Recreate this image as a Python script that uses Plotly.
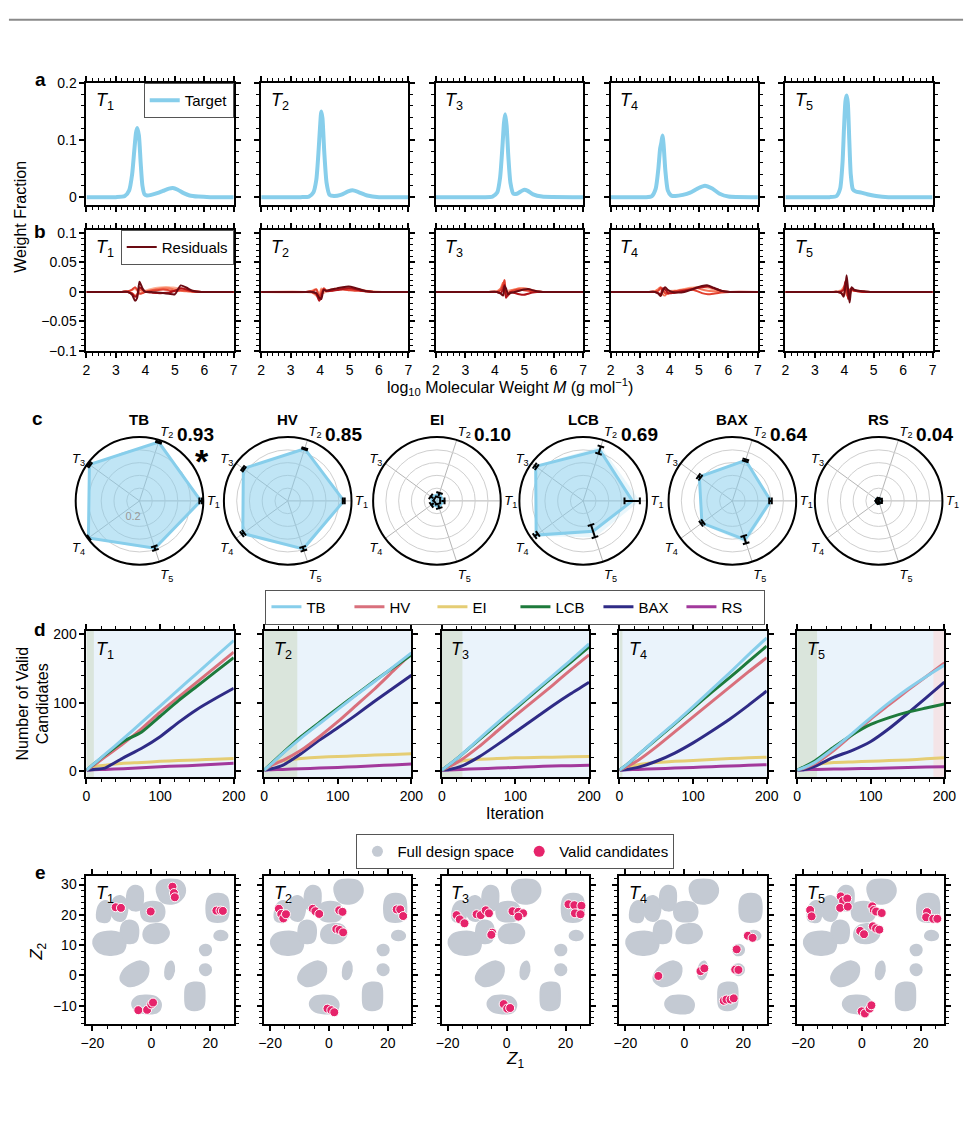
import math
import plotly.graph_objects as go

W, H = 978, 1127
FONT = "Liberation Sans, Arial, Helvetica, sans-serif"


def fx(p):
    return p / W


def fy(p):
    return 1 - p / H


# ------------------------------------------------------------------ data
T_NAMES = ["<i>T</i><sub>1</sub>", "<i>T</i><sub>2</sub>", "<i>T</i><sub>3</sub>",
           "<i>T</i><sub>4</sub>", "<i>T</i><sub>5</sub>"]

# panel a: target molecular weight distributions
TARGET_X = [
    [2, 3.0, 3.3, 3.45, 3.55, 3.62, 3.68, 3.72, 3.78, 3.84, 3.9, 3.97, 4.05, 4.2, 4.4, 4.6, 4.8, 4.93, 5.1, 5.3, 5.5, 5.8, 6.2, 7],
    [2, 3.34, 3.62, 3.77, 3.87, 3.94, 4.0, 4.04, 4.08, 4.14, 4.22, 4.32, 4.47, 4.7, 4.95, 5.1, 5.3, 5.6, 6, 7],
    [2, 3.6, 3.92, 4.08, 4.18, 4.26, 4.31, 4.35, 4.4, 4.46, 4.53, 4.63, 4.75, 4.88, 5.0, 5.12, 5.3, 5.6, 7],
    [2, 3.2, 3.4, 3.53, 3.62, 3.68, 3.72, 3.76, 3.8, 3.86, 3.94, 4.05, 4.2, 4.45, 4.7, 4.95, 5.2, 5.45, 5.7, 6.0, 7],
    [2, 3.5, 3.74, 3.86, 3.94, 3.99, 4.04, 4.08, 4.12, 4.17, 4.22, 4.29, 4.39, 4.58, 4.78, 5.08, 5.5, 7],
]
TARGET_Y = [
    [0, 0, 0.002, 0.012, 0.04, 0.08, 0.112, 0.121, 0.108, 0.06, 0.02, 0.005, 0.003, 0.004, 0.007, 0.011, 0.015, 0.016, 0.013, 0.007, 0.003, 0.001, 0, 0],
    [0, 0, 0.001, 0.008, 0.03, 0.075, 0.125, 0.15, 0.138, 0.08, 0.025, 0.004, 0.002, 0.004, 0.01, 0.012, 0.009, 0.003, 0, 0],
    [0, 0, 0.001, 0.008, 0.035, 0.09, 0.13, 0.145, 0.125, 0.07, 0.025, 0.006, 0.006, 0.01, 0.013, 0.011, 0.005, 0.001, 0],
    [0, 0, 0.002, 0.015, 0.05, 0.085, 0.095, 0.108, 0.09, 0.045, 0.012, 0.003, 0.002, 0.004, 0.008, 0.015, 0.02, 0.015, 0.006, 0.001, 0],
    [0, 0, 0.002, 0.015, 0.06, 0.12, 0.168, 0.178, 0.165, 0.1, 0.04, 0.014, 0.01, 0.008, 0.005, 0.002, 0, 0],
]

# panel b: residuals (5 runs per target, light -> dark)
RESID_X = [
    [2, 3.2, 3.4, 3.55, 3.65, 3.72, 3.8, 3.9, 4.0, 4.2, 4.4, 4.6, 4.8, 5.0, 5.2, 5.4, 5.6, 5.9, 7],
    [2, 3.52, 3.72, 3.87, 3.97, 4.04, 4.12, 4.22, 4.37, 4.57, 4.77, 4.97, 5.17, 5.37, 5.57, 5.82, 6.1, 7],
    [2, 3.8, 4.07, 4.2, 4.28, 4.33, 4.38, 4.45, 4.53, 4.68, 4.83, 4.98, 5.13, 5.28, 5.43, 5.63, 5.9, 7],
    [2, 3.3, 3.5, 3.62, 3.7, 3.77, 3.85, 3.95, 4.1, 4.3, 4.5, 4.7, 4.9, 5.1, 5.3, 5.5, 5.75, 6.05, 7],
    [2, 3.58, 3.78, 3.9, 3.98, 4.04, 4.08, 4.13, 4.18, 4.25, 4.33, 4.48, 4.68, 4.88, 5.18, 7],
]
RESID_Y = [
    [
        [0, 0, 0.001, 0.003, 0.005, 0.002, -0.002, 0, 0.002, 0.005, 0.007, 0.008, 0.008, 0.007, 0.006, 0.004, 0.002, 0, 0],
        [0, 0, 0, -0.002, -0.006, -0.004, 0.003, 0.002, 0.001, 0.003, 0.005, 0.006, 0.006, 0.004, 0.002, 0.001, 0, 0, 0],
        [0, 0, 0.001, 0.004, 0.008, 0.004, -0.003, -0.002, 0, 0.002, 0.003, 0.004, 0.003, 0.001, 0.003, 0.002, 0.001, 0, 0],
        [0, 0, 0, -0.003, -0.008, -0.006, 0.008, 0.004, 0, -0.001, -0.002, -0.002, -0.001, 0.002, 0.006, 0.004, 0.001, 0, 0],
        [0, 0, 0, -0.005, -0.015, -0.01, 0.017, 0.006, 0, 0, -0.001, -0.002, -0.003, -0.004, 0.011, 0.007, 0.002, 0, 0],
    ],
    [
        [0, 0, 0.002, 0.005, -0.004, 0.006, -0.002, 0.001, 0.004, 0.006, 0.007, 0.007, 0.006, 0.004, 0.002, 0.001, 0, 0],
        [0, 0, -0.001, -0.006, -0.012, 0.004, 0.003, 0.002, 0.003, 0.005, 0.006, 0.005, 0.004, 0.003, 0.001, 0, 0, 0],
        [0, 0, 0.001, 0.004, -0.008, -0.002, 0.006, 0.002, 0.002, 0.004, 0.004, 0.003, 0.002, 0.002, 0.001, 0, 0, 0],
        [0, 0, 0, -0.003, -0.015, -0.008, 0.004, 0.001, 0.002, 0.003, 0.005, 0.006, 0.005, 0.002, 0.001, 0, 0, 0],
        [0, 0, 0, -0.002, -0.01, -0.012, 0.003, 0.002, 0.004, 0.006, 0.008, 0.009, 0.007, 0.004, 0.001, 0, 0, 0],
    ],
    [
        [0, 0, 0.001, 0.004, 0.01, 0.006, -0.004, 0.002, 0.003, 0.004, 0.005, 0.005, 0.004, 0.002, 0.001, 0, 0, 0],
        [0, 0, 0.001, 0.006, 0.016, 0.004, -0.008, -0.003, 0.002, 0.004, 0.006, 0.006, 0.005, 0.003, 0.001, 0, 0, 0],
        [0, 0, 0, 0.003, 0.012, 0.02, -0.004, -0.006, 0, 0.003, 0.004, 0.003, 0.002, 0.001, 0, 0, 0, 0],
        [0, 0, 0, -0.002, 0.005, 0.012, -0.01, -0.004, 0, -0.002, -0.004, -0.005, -0.003, -0.001, 0, 0, 0, 0],
        [0, 0, 0, -0.003, -0.006, 0.01, 0.006, -0.004, -0.002, 0, 0.002, 0.004, 0.005, 0.003, 0.001, 0, 0, 0],
    ],
    [
        [0, 0, 0.001, 0.004, 0.006, 0.002, -0.002, 0.001, 0.002, 0.003, 0.005, 0.007, 0.008, 0.008, 0.007, 0.004, 0.002, 0, 0],
        [0, 0, 0.001, 0.005, 0.008, -0.004, -0.006, 0, 0.001, 0.002, 0.004, 0.006, 0.007, 0.004, 0.002, 0.001, 0, 0, 0],
        [0, 0, 0, 0.002, 0.007, 0.004, -0.002, -0.003, 0, 0.002, 0.003, 0.004, 0.002, -0.002, -0.004, -0.003, -0.001, 0, 0],
        [0, 0, 0, -0.002, -0.004, 0.006, 0.004, -0.002, -0.002, 0, 0.002, 0.004, 0.006, 0.008, 0.009, 0.006, 0.002, 0, 0],
        [0, 0, 0, -0.003, -0.007, 0.002, 0.008, 0.003, 0, -0.001, 0, 0.003, 0.007, 0.01, 0.011, 0.007, 0.002, 0, 0],
    ],
    [
        [0, 0, 0.001, 0.003, 0.006, 0.002, -0.003, 0.001, 0.002, 0.003, 0.002, 0.002, 0.001, 0, 0, 0],
        [0, 0, 0, 0.002, 0.008, 0.012, -0.006, -0.004, 0.004, 0.003, 0.002, 0.001, 0, 0, 0, 0],
        [0, 0, 0, -0.002, -0.004, 0.008, 0.016, -0.01, -0.006, 0.004, 0.003, 0.001, 0, 0, 0, 0],
        [0, 0, 0, 0.001, 0.004, 0.018, 0.014, -0.012, 0.002, 0.006, 0.002, 0.001, 0, 0, 0, 0],
        [0, 0, 0, -0.002, -0.008, 0.01, 0.028, 0.004, -0.018, 0.008, 0.004, 0.002, 0.001, 0, 0, 0],
    ],
]
RESID_COLORS = ["#fcb49a", "#f7785a", "#e2412f", "#b01218", "#6b0a12"]

# panel c: normalised scores per target (T1..T5) with error bars
METHODS = ["TB", "HV", "EI", "LCB", "BAX", "RS"]
SCORES = ["0.93", "0.85", "0.10", "0.69", "0.64", "0.04"]
RADAR_ANGLES = [0, 72, 144, 216, 288]
RADAR_R = [
    [0.96, 0.97, 0.97, 0.99, 0.78],
    [0.88, 0.86, 0.86, 0.87, 0.79],
    [0.10, 0.11, 0.10, 0.09, 0.10],
    [0.77, 0.84, 0.92, 0.91, 0.50],
    [0.60, 0.67, 0.64, 0.59, 0.64],
    [0.05, 0.04, 0.04, 0.04, 0.04],
]
RADAR_ERR = [
    [0.02, 0.01, 0.015, 0.01, 0.03],
    [0.015, 0.01, 0.015, 0.02, 0.03],
    [0.03, 0.03, 0.03, 0.03, 0.03],
    [0.12, 0.06, 0.02, 0.03, 0.10],
    [0.02, 0.015, 0.02, 0.02, 0.06],
    [0.02, 0.02, 0.02, 0.02, 0.02],
]
RADAR_CX = [136, 287, 439, 588, 740, 889]

# panel d: cumulative valid candidates
ITER = [0, 10, 25, 50, 75, 100, 125, 150, 175, 200]
METHOD_COLORS = {"TB": "#87ceeb", "HV": "#d9707c", "EI": "#e5cd74",
                 "LCB": "#1d7a3b", "BAX": "#2f2b86", "RS": "#a2399c"}
VALID = [
    {"TB": [1, 10, 24, 47, 71, 95, 119, 143, 167, 191],
     "HV": [1, 8, 20, 40, 62, 86, 108, 130, 152, 174],
     "EI": [1, 6, 8, 11, 12, 14, 15, 16, 17, 18],
     "LCB": [1, 10, 23, 43, 57, 80, 103, 124, 145, 166],
     "BAX": [1, 2, 4, 19, 33, 50, 71, 90, 106, 121],
     "RS": [1, 1.5, 2, 3, 4.5, 6, 7, 8, 9.5, 11]},
    {"TB": [1, 10, 25, 48, 69, 90, 111, 131, 152, 173],
     "HV": [1, 8, 15, 30, 50, 72, 96, 120, 146, 172],
     "EI": [1, 10, 15, 18, 20, 21, 22, 23, 24, 25],
     "LCB": [1, 11, 26, 50, 71, 92, 112, 132, 151, 170],
     "BAX": [1, 3, 8, 25, 45, 63, 82, 102, 121, 140],
     "RS": [1, 1.5, 2, 3, 4, 5, 6, 7.5, 8.5, 10]},
    {"TB": [1, 9, 22, 46, 70, 93, 116, 139, 162, 186],
     "HV": [1, 6, 15, 35, 58, 81, 103, 125, 148, 170],
     "EI": [1, 8, 14, 17, 18, 19, 19.5, 20, 20.5, 21],
     "LCB": [1, 9, 22, 45, 68, 91, 114, 137, 159, 182],
     "BAX": [1, 2, 6, 20, 38, 57, 76, 95, 113, 130],
     "RS": [1, 1.3, 2, 3, 4, 5, 6, 7, 7.5, 8]},
    {"TB": [1, 9, 23, 47, 70, 94, 119, 144, 170, 195],
     "HV": [1, 6, 15, 35, 57, 79, 101, 123, 145, 166],
     "EI": [1, 5, 9, 12, 14, 15, 16.5, 18, 19, 20],
     "LCB": [1, 9, 23, 46, 69, 92, 115, 137, 160, 183],
     "BAX": [1, 2, 5, 14, 26, 41, 58, 76, 96, 117],
     "RS": [1, 1.5, 2, 3, 4, 5, 6, 7, 8, 9]},
    {"TB": [1, 5, 13, 33, 55, 78, 100, 120, 138, 155],
     "HV": [1, 4, 11, 30, 53, 76, 97, 118, 138, 158],
     "EI": [1, 5, 9, 12, 13, 14, 15, 16, 17.5, 19],
     "LCB": [1, 6, 15, 35, 53, 68, 78, 86, 92, 98],
     "BAX": [1, 2, 7, 20, 30, 43, 62, 84, 107, 130],
     "RS": [1, 1.5, 2, 2.5, 3, 3.5, 4, 5, 5.5, 6]},
]
INIT_END = [10, 45, 28, 4, 27]          # green-shaded initial phase (iterations)
PINK_BAND = [None, None, None, None, (185, 200)]

# panel e: latent design space blobs (outline vertices, Z1/Z2)
BLOBS = [
    [(-18.5, 20), (-17.5, 23.5), (-15.5, 24.6), (-14, 23.5), (-13.7, 20.5), (-14.5, 18), (-16.5, 17.6), (-18.2, 18.3)],
    [(-13.5, 22.5), (-12.5, 25.5), (-10.5, 26.2), (-8.5, 24.5), (-8.2, 21), (-9.5, 18.3), (-11.5, 18.1), (-13.2, 19.5)],
    [(-8.3, 25), (-7.5, 28.5), (-5.5, 29.6), (-3.2, 28.5), (-2.8, 25), (-3.5, 22), (-5.5, 21.4), (-7.6, 22.3)],
    [(-3.5, 21), (-2.5, 23.5), (0.5, 24.3), (3.5, 23.5), (4.5, 21), (3.5, 18.5), (0.5, 17.8), (-2.5, 18.5)],
    [(1.8, 28.5), (3, 31), (6.5, 31.7), (10, 31), (11.5, 28), (10, 25), (7, 23.7), (3.5, 24.5)],
    [(18.7, 22), (19.5, 25.8), (22.5, 27), (25.5, 26), (26.3, 22.5), (25.5, 18.5), (22.5, 17.6), (19.5, 18.5)],
    [(21.4, 13), (22.5, 14.5), (24.5, 14.6), (25.8, 13.5), (25.3, 12), (23.5, 11.6), (22, 12)],
    [(-19.7, 10.5), (-18.5, 13.3), (-15, 14.4), (-11, 14), (-8.8, 11.5), (-9.5, 8), (-13, 6.8), (-17.5, 7.5)],
    [(-10.4, 14.5), (-9.5, 17.3), (-7.5, 18.1), (-5, 17), (-4.4, 14), (-5.3, 11.2), (-7.5, 10.6), (-9.7, 11.5)],
    [(-2.7, 13.5), (-1.5, 16), (1.5, 17), (4.5, 16.5), (6, 14), (4.5, 11.5), (1.5, 10.6), (-1.5, 11.2)],
    [(16.5, 8.5), (17.5, 9.9), (19.5, 9.8), (20.3, 8.3), (19.5, 6.9), (17.5, 6.8)],
    [(16.5, 2), (17.5, 3.5), (19.5, 3.3), (20.3, 1.8), (19.5, 0.4), (17.5, 0.3)],
    [(11.5, -7), (12, -3.5), (14.5, -2.4), (17.5, -3), (18.1, -7), (17.5, -10.5), (14.5, -11.5), (12, -10.5)],
    [(-6.5, -9.5), (-5, -7.2), (-1.5, -6.7), (2, -7.5), (3.3, -9.8), (2, -12.2), (-1.5, -12.6), (-5, -11.8)],
    [(-10.4, -1.5), (-9.5, 1.5), (-6.5, 3.8), (-3.5, 4.6), (-1.1, 3), (-1.5, -0.5), (-4.5, -3), (-8, -3.5)],
    [(4.7, 1), (5.5, 3.8), (6.8, 4.6), (7.7, 3), (7.3, 0), (6, -1.3), (5, -0.8)],
]
VALID_Z1 = [
    [-12.1, -10.3, -0.2, 7.2, 7.7, 8.0, 22.1, 23.5, 24.3, -4.4, -1.4, 0.0, 0.6],
    [-17.0, -16.2, -15.5, -14.6, -5.5, -4.6, -3.3, 3.5, 4.6, 2.5, 3.6, 4.8, 23.0, 24.2, 25.2, -0.5, 0.8, 1.8],
    [-17.0, -15.9, -14.3, -10.2, -8.8, -7.1, -6.0, -4.9, -5.2, 2.0, 4.0, 5.6, 4.0, 21.0, 23.0, 25.4, 23.2, 25.1, -1.0, 0.2, 1.2],
    [-8.8, 5.5, 6.8, 17.8, 17.3, 18.4, 21.6, 23.2, 13.4, 14.3, 15.7, 16.8],
    [-17.6, -17.1, -7.2, -6.4, -5.0, -7.4, -4.8, 3.5, 4.0, 4.8, 6.7, -0.6, 0.7, 3.7, 4.8, 5.9, 22.1, 21.8, 24.2, 25.6, -0.1, 1.0, 2.6, 3.2],
]
VALID_Z2 = [
    [22.5, 22.3, 21.1, 29.3, 27.2, 25.8, 21.4, 21.4, 21.3, -11.5, -11.4, -9.6, -9.0],
    [22.0, 20.3, 18.8, 20.2, 22.0, 21.2, 20.3, 21.5, 21.0, 15.3, 15.0, 14.2, 21.8, 21.8, 19.6, -11.0, -11.5, -12.2],
    [19.9, 18.5, 17.2, 20.2, 19.9, 21.5, 20.5, 14.1, 13.4, 21.2, 21.0, 20.5, 19.4, 23.5, 23.2, 23.0, 20.5, 20.2, -9.5, -11.0, -10.8],
    [-0.2, 1.4, 2.3, 8.6, 1.9, 1.8, 13.1, 12.4, -8.4, -8.0, -8.0, -7.6],
    [21.6, 19.5, 26.1, 24.6, 25.4, 22.3, 22.7, 22.8, 21.6, 21.1, 20.6, 14.7, 13.6, 16.2, 15.5, 15.1, 20.9, 19.2, 18.7, 18.7, -11.9, -12.6, -11.0, -9.9],
]

# ------------------------------------------------------------------ layout helpers
COL_W = 150
COL_LEFT = {"a": [82 + 178 * c for c in range(5)], "b": [82 + 178 * c for c in range(5)],
            "d": [82 + 181 * c for c in range(5)], "e": [82 + 181 * c for c in range(5)]}
ROWS = {"a": (76, 200), "b": (225, 348), "d": (632, 780), "e": (880, 1031)}
ROW_BASE = {"a": 0, "b": 5, "d": 10, "e": 15}

fig = go.Figure()
layout = {}
annotations = []
shapes = []


def xa(i):
    return "x" if i == 1 else f"x{i}"


def ya(i):
    return "y" if i == 1 else f"y{i}"


def axis_style(rng, tickvals, ticktext, minor_dtick, minor_tick0, show_labels):
    return dict(
        range=rng, showline=True, linecolor="black", linewidth=2, mirror="allticks",
        ticks="outside", ticklen=5, tickwidth=1.5, tickcolor="black",
        tickmode="array", tickvals=tickvals, ticktext=ticktext,
        minor=dict(ticks="outside", ticklen=3, tickwidth=1, tickcolor="black",
                   dtick=minor_dtick, tick0=minor_tick0, showgrid=False),
        showgrid=False, zeroline=False, showticklabels=show_labels,
        tickfont=dict(size=14, family=FONT, color="black"), fixedrange=True,
    )


ROW_AXES = {
    "a": dict(x=([2, 7], [2, 3, 4, 5, 6, 7], ["2", "3", "4", "5", "6", "7"], 0.2, 2, False),
              y=([-0.014, 0.2], [0, 0.1, 0.2], ["0", "0.1", "0.2"], 0.02, 0)),
    "b": dict(x=([2, 7], [2, 3, 4, 5, 6, 7], ["2", "3", "4", "5", "6", "7"], 0.2, 2, True),
              y=([-0.1, 0.105], [-0.1, -0.05, 0, 0.05, 0.1], ["\u22120.1", "\u22120.05", "0", "0.05", "0.1"], 0.01, 0)),
    "d": dict(x=([0, 200], [0, 100, 200], ["0", "100", "200"], 20, 0, True),
              y=([-9, 205], [0, 100, 200], ["0", "100", "200"], 20, 0)),
    "e": dict(x=([-22, 28], [-20, 0, 20], ["\u221220", "0", "20"], 5, 0, True),
              y=([-16.2, 33], [-10, 0, 10, 20, 30], ["\u221210", "0", "10", "20", "30"], 2, 0)),
}

for row, (top, bottom) in ROWS.items():
    for c in range(5):
        i = ROW_BASE[row] + c + 1
        left = COL_LEFT[row][c]
        xr, xtv, xtt, xmd, xm0, xshow = ROW_AXES[row]["x"]
        yr, ytv, ytt, ymd, ym0 = ROW_AXES[row]["y"]
        xs = axis_style(xr, xtv, xtt, xmd, xm0, xshow)
        xs.update(domain=[fx(left), fx(left + COL_W)], anchor=ya(i))
        ys = axis_style(yr, ytv, ytt, ymd, ym0, c == 0)
        ys.update(domain=[fy(bottom), fy(top)], anchor=xa(i))
        layout["xaxis" if i == 1 else f"xaxis{i}"] = xs
        layout["yaxis" if i == 1 else f"yaxis{i}"] = ys
        annotations.append(dict(text=T_NAMES[c], xref=f"{xa(i)} domain", yref=f"{ya(i)} domain",
                                x=0.05, y=0.96, xanchor="left", yanchor="top", showarrow=False,
                                font=dict(size=18, family=FONT, color="black")))

# ------------------------------------------------------------------ panel a
for c in range(5):
    i = c + 1
    fig.add_trace(go.Scatter(x=TARGET_X[c], y=TARGET_Y[c], mode="lines",
                             line=dict(color="#87ceeb", width=4, shape="spline", smoothing=0.6),
                             name="Target", showlegend=(c == 0), legend="legend",
                             xaxis=xa(i), yaxis=ya(i), hoverinfo="skip"))

# ------------------------------------------------------------------ panel b
for c in range(5):
    i = 5 + c + 1
    for k in range(5):
        fig.add_trace(go.Scatter(x=RESID_X[c], y=RESID_Y[c][k], mode="lines",
                                 line=dict(color=RESID_COLORS[k], width=2, shape="spline", smoothing=0.6),
                                 name="Residuals", showlegend=(c == 0 and k == 4), legend="legend2",
                                 xaxis=xa(i), yaxis=ya(i), hoverinfo="skip"))

# ------------------------------------------------------------------ panel c (radar)
POL_R = 65
POL_CY = 500


def err_segments(theta, r, e, cap_r):
    rr, tt = [], []
    for th, rv, ev in zip(theta, r, e):
        lo, hi = max(rv - ev, 0.005), rv + ev
        rr += [lo, hi, None]
        tt += [th, th, None]
        for end in (lo, hi):
            d = math.degrees(cap_r / end)
            rr += [end, end, None]
            tt += [th - d, th + d, None]
    return rr, tt


for m, name in enumerate(METHODS):
    pid = "polar" if m == 0 else f"polar{m + 1}"
    cx = RADAR_CX[m]
    r = RADAR_R[m]
    e = RADAR_ERR[m]
    upper = [a + b for a, b in zip(r, e)]
    fig.add_trace(go.Scatterpolar(r=upper + upper[:1], theta=RADAR_ANGLES + RADAR_ANGLES[:1],
                                  mode="lines", fill="toself", fillcolor="rgba(135,206,235,0.18)",
                                  line=dict(color="rgba(135,206,235,0)", width=0),
                                  subplot=pid, showlegend=False, hoverinfo="skip"))
    fig.add_trace(go.Scatterpolar(r=r + r[:1], theta=RADAR_ANGLES + RADAR_ANGLES[:1],
                                  mode="lines", fill="toself", fillcolor="rgba(135,206,235,0.42)",
                                  line=dict(color="#87ceeb", width=3),
                                  subplot=pid, showlegend=False, hoverinfo="skip"))
    er, et = err_segments(RADAR_ANGLES, r, e, 3.5 / POL_R)
    fig.add_trace(go.Scatterpolar(r=er, theta=et, mode="lines", connectgaps=False,
                                  line=dict(color="black", width=2),
                                  subplot=pid, showlegend=False, hoverinfo="skip"))
    layout[pid] = dict(
        domain=dict(x=[fx(cx - POL_R), fx(cx + POL_R)], y=[fy(POL_CY + POL_R), fy(POL_CY - POL_R)]),
        bgcolor="white",
        radialaxis=dict(range=[0, 1], tickvals=[0.2, 0.4, 0.6, 0.8],
                        ticktext=["0.2", "", "", ""], showticklabels=(m == 0),
                        angle=-60, tickangle=-60, showline=False, ticks="",
                        gridcolor="#cfcfcf", gridwidth=1,
                        tickfont=dict(size=11, family=FONT, color="#999999")),
        angularaxis=dict(tickmode="array", tickvals=RADAR_ANGLES, ticktext=T_NAMES,
                         direction="counterclockwise", rotation=0,
                         showline=True, linecolor="black", linewidth=2,
                         gridcolor="#b5b5b5", gridwidth=1, ticks="",
                         tickfont=dict(size=13, family=FONT, color="black")),
    )


def label(text, x, y, size=16, angle=0, bold=False, color="black"):
    t = f"<b>{text}</b>" if bold else text
    annotations.append(dict(text=t, x=fx(x), y=fy(y), xref="paper", yref="paper", showarrow=False,
                            xanchor="center", yanchor="middle",
                            textangle=angle, font=dict(size=size, family=FONT, color=color)))


for m, name in enumerate(METHODS):
    cx = RADAR_CX[m]
    label(name, cx, 417, 15, bold=True)
    label(SCORES[m], cx + 57, 433, 19, bold=True)
label("*", 200, 460, 34, bold=True)

# ------------------------------------------------------------------ panel d
for c in range(5):
    i = 10 + c + 1
    shapes.append(dict(type="rect", xref=f"{xa(i)} domain", yref=f"{ya(i)} domain",
                       x0=0, x1=1, y0=0, y1=1, fillcolor="#eaf3fb", line=dict(width=0), layer="below"))
    shapes.append(dict(type="rect", xref=xa(i), yref=f"{ya(i)} domain",
                       x0=0, x1=INIT_END[c], y0=0, y1=1, fillcolor="#dae5dc",
                       line=dict(width=0), layer="below"))
    if PINK_BAND[c]:
        shapes.append(dict(type="rect", xref=xa(i), yref=f"{ya(i)} domain",
                           x0=PINK_BAND[c][0], x1=PINK_BAND[c][1], y0=0, y1=1,
                           fillcolor="#f4e4e7", line=dict(width=0), layer="below"))
    for name in ["EI", "RS", "BAX", "HV", "LCB", "TB"]:
        fig.add_trace(go.Scatter(x=ITER, y=VALID[c][name], mode="lines",
                                 line=dict(color=METHOD_COLORS[name], width=3, shape="spline", smoothing=0.5),
                                 name=name, showlegend=False, legend="legend3",
                                 xaxis=xa(i), yaxis=ya(i), hoverinfo="skip"))
for name in METHODS:
    fig.add_trace(go.Scatter(x=[None], y=[None], mode="lines",
                             line=dict(color=METHOD_COLORS[name], width=3),
                             name=name, showlegend=True, legend="legend3",
                             xaxis="x11", yaxis="y11", hoverinfo="skip"))

# ------------------------------------------------------------------ panel e
for c in range(5):
    i = 15 + c + 1
    for blob in BLOBS:
        bx = [p[0] for p in blob] + [blob[0][0]]
        by = [p[1] for p in blob] + [blob[0][1]]
        fig.add_trace(go.Scatter(x=bx, y=by, mode="lines", fill="toself", fillcolor="#c4cad3",
                                 line=dict(color="#c4cad3", width=2, shape="spline", smoothing=1),
                                 showlegend=False, xaxis=xa(i), yaxis=ya(i), hoverinfo="skip"))
    fig.add_trace(go.Scatter(x=VALID_Z1[c], y=VALID_Z2[c], mode="markers",
                             marker=dict(color="#e6246b", size=9, line=dict(color="white", width=1)),
                             showlegend=False, xaxis=xa(i), yaxis=ya(i), hoverinfo="skip"))
fig.add_trace(go.Scatter(x=[None], y=[None], mode="markers", name="Full design space",
                         marker=dict(color="#c4cad3", size=11), legend="legend4",
                         xaxis="x16", yaxis="y16"))
fig.add_trace(go.Scatter(x=[None], y=[None], mode="markers", name="Valid candidates",
                         marker=dict(color="#e6246b", size=11), legend="legend4",
                         xaxis="x16", yaxis="y16"))

# ------------------------------------------------------------------ text
label("a", 35, 73, 19, bold=True)
label("b", 35, 227, 19, bold=True)
label("c", 32, 416, 19, bold=True)
label("d", 35, 630, 19, bold=True)
label("e", 35, 877, 19, bold=True)
label("Weight Fraction", 15, 212, 16, angle=-90)
label("log<sub>10</sub> Molecular Weight <i>M</i> (g mol<sup>\u22121</sup>)", 513, 384, 16)
label("Number of Valid<br>Candidates", 27, 706, 16, angle=-90)
label("Iteration", 519, 817, 16)
label("<i>Z</i><sub>2</sub>", 33, 957, 17, angle=-90)
label("<i>Z</i><sub>1</sub>", 519, 1067, 17)

shapes.append(dict(type="line", xref="paper", yref="paper", x0=fx(3), x1=fx(975), y0=fy(12), y1=fy(12),
                   line=dict(color="#8a8a8a", width=2)))

legend_common = dict(bgcolor="white", bordercolor="#555555", borderwidth=1,
                     font=dict(size=15, family=FONT, color="black"))
layout.update(
    width=W, height=H, autosize=False,
    margin=dict(l=0, r=0, t=0, b=0),
    paper_bgcolor="white", plot_bgcolor="rgba(0,0,0,0)",
    font=dict(family=FONT, color="black"),
    annotations=annotations, shapes=shapes,
    legend=dict(x=fx(232), xanchor="right", y=fy(76), yanchor="top", itemwidth=30, **legend_common),
    legend2=dict(x=fx(232), xanchor="right", y=fy(225), yanchor="top", itemwidth=30, **legend_common),
    legend3=dict(orientation="h", x=fx(519), xanchor="center", y=fy(590), yanchor="top",
                 entrywidth=38, itemwidth=30, **legend_common),
    legend4=dict(orientation="h", x=fx(519), xanchor="center", y=fy(838), yanchor="top",
                 itemwidth=30, **legend_common),
)
fig.update_layout(**layout)
fig.write_html("out.html")
